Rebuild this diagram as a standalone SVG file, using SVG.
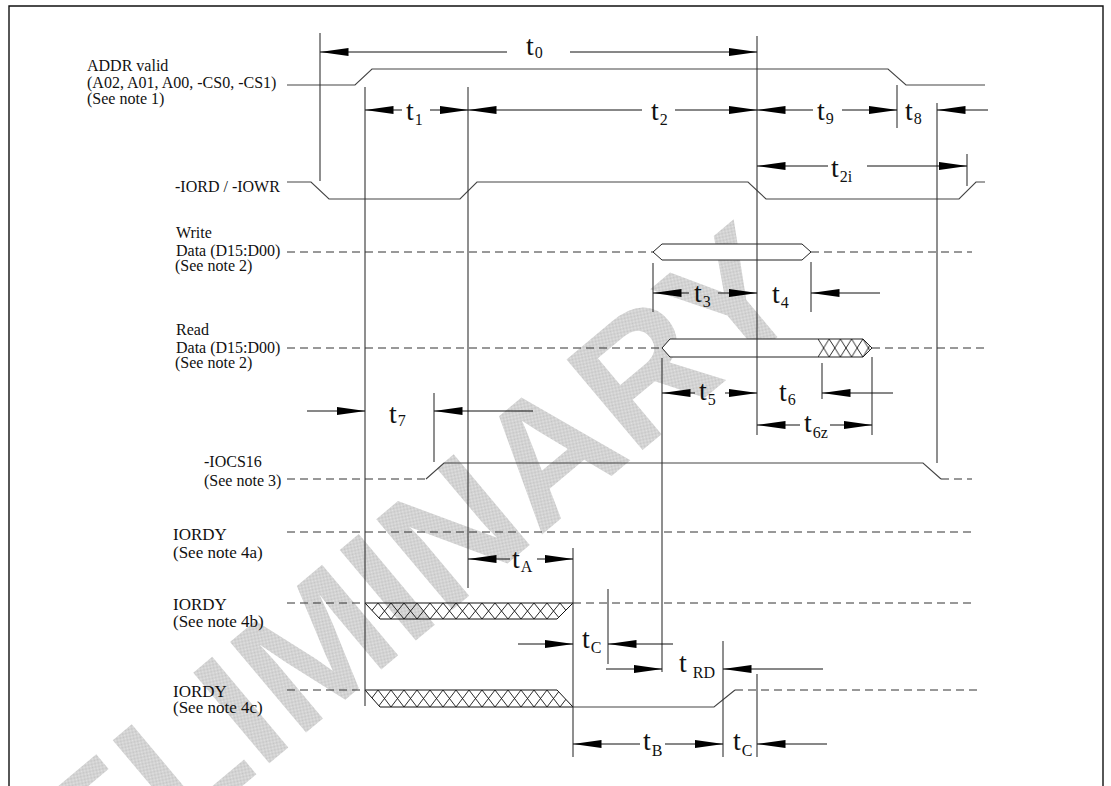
<svg xmlns="http://www.w3.org/2000/svg" width="1111" height="786" viewBox="0 0 1111 786">
<style>
.lbl{font-family:"Liberation Serif","Times New Roman",serif;font-size:16px;fill:#111}
.lbl17{font-family:"Liberation Serif","Times New Roman",serif;font-size:17px;fill:#111}
.t{font-family:"Liberation Serif","Times New Roman",serif;font-size:28px;fill:#111}
.sub{font-size:16px}
.sig{fill:none;stroke:#444;stroke-width:1.1}
.dash{fill:none;stroke:#333;stroke-width:1;stroke-dasharray:8 5}
.ref{fill:none;stroke:#333;stroke-width:1.1}
.dim{fill:none;stroke:#111;stroke-width:1;marker-end:url(#ah)}
.bus{fill:#fff;stroke:#222;stroke-width:1}
.wm{font-family:"Liberation Sans",Arial,sans-serif;font-weight:bold;font-size:172px;fill:url(#dots)}
</style>
<defs>
<marker id="ah" markerUnits="userSpaceOnUse" viewBox="0 0 29 9" markerWidth="29" markerHeight="9" refX="28.5" refY="4.5" orient="auto">
<path d="M0,0.5 L29,4.5 L0,8.5 z" fill="#000"/>
</marker>
<pattern id="dots" patternUnits="userSpaceOnUse" width="2" height="2">
<rect width="2" height="2" fill="#e2e2e2"/>
<rect width="1" height="1" fill="#c4c4c4"/>
<rect x="1" y="1" width="1" height="1" fill="#c4c4c4"/>
</pattern>
<pattern id="xh1" patternUnits="userSpaceOnUse" x="365" y="603" width="13" height="16">
<path d="M0,0 L13,16 M13,0 L0,16" stroke="#111" stroke-width="0.9"/>
</pattern>
<pattern id="xh2" patternUnits="userSpaceOnUse" x="365" y="690" width="13" height="17">
<path d="M0,0 L13,17 M13,0 L0,17" stroke="#111" stroke-width="0.9"/>
</pattern>
<pattern id="xh3" patternUnits="userSpaceOnUse" x="818" y="339" width="11.2" height="18">
<path d="M0,0 L11.2,18 M11.2,0 L0,18" stroke="#111" stroke-width="0.9"/>
</pattern>
</defs>
<rect width="1111" height="786" fill="#fff"/>

<g id="watermark">
<text class="wm" text-anchor="end" transform="translate(812,308) rotate(-40)">PRELIMINARY</text>
</g>

<g id="frame">
<path d="M9,790 V6 H1103 V790" fill="none" stroke="#111" stroke-width="1.4"/>
</g>

<g id="labels">
<g id="lbl-addr">
<text class="lbl" x="87" y="71">ADDR valid</text>
<text class="lbl" x="87" y="88">(A02, A01, A00, -CS0, -CS1)</text>
<text class="lbl" x="87" y="104">(See note 1)</text>
</g>
<g id="lbl-iord"><text class="lbl" x="175" y="192">-IORD / -IOWR</text></g>
<g id="lbl-write">
<text class="lbl" x="176" y="238">Write</text>
<text class="lbl" x="176" y="256">Data (D15:D00)</text>
<text class="lbl" x="175" y="271">(See note 2)</text>
</g>
<g id="lbl-read">
<text class="lbl" x="176" y="335">Read</text>
<text class="lbl" x="176" y="353">Data (D15:D00)</text>
<text class="lbl" x="175" y="368">(See note 2)</text>
</g>
<g id="lbl-iocs">
<text class="lbl" x="204" y="467">-IOCS16</text>
<text class="lbl" x="204" y="486">(See note 3)</text>
</g>
<g id="lbl-4a">
<text class="lbl17" x="173" y="540">IORDY</text>
<text class="lbl17" x="173" y="558">(See note 4a)</text>
</g>
<g id="lbl-4b">
<text class="lbl17" x="173" y="610">IORDY</text>
<text class="lbl17" x="173" y="627">(See note 4b)</text>
</g>
<g id="lbl-4c">
<text class="lbl17" x="173" y="697">IORDY</text>
<text class="lbl17" x="173" y="713">(See note 4c)</text>
</g>
</g>

<g id="signals">
<g id="sig-addr"><polyline class="sig" points="287,85 355,85 372,69 888,69 906,85 985,85"/></g>
<g id="sig-iord"><polyline class="sig" points="287,182 311,182 329,199 460,199 477,182 748,182 766,199 959,199 976,182 985,182"/></g>
<g id="sig-write">
<line class="dash" x1="287" y1="252" x2="653" y2="252"/>
<polygon class="bus" points="653,252 662,244 802,244 811,252 802,260 662,260"/>
<line class="dash" x1="811" y1="252" x2="972" y2="252"/>
</g>
<g id="sig-read">
<line class="dash" x1="287" y1="348" x2="662" y2="348"/>
<polygon class="bus" points="662,348 670,339 863,339 872,348 863,357 670,357"/>
<polygon points="818,339 863,339 872,348 863,357 818,357" fill="url(#xh3)" stroke="none"/>
<line class="dash" x1="872" y1="348" x2="985" y2="348"/>
</g>
<g id="sig-iocs">
<line class="dash" x1="287" y1="479" x2="426" y2="479"/>
<polyline class="sig" points="426,479 444,463 923,463 941,479"/>
<line class="dash" x1="941" y1="479" x2="972" y2="479"/>
</g>
<g id="sig-4a"><line class="dash" x1="287" y1="532" x2="973" y2="532"/></g>
<g id="sig-4b">
<line class="dash" x1="287" y1="603" x2="365" y2="603"/>
<polygon points="365,603 573,603 557,619 380,619" fill="url(#xh1)" stroke="#111" stroke-width="1"/>
<line class="dash" x1="573" y1="603" x2="973" y2="603"/>
</g>
<g id="sig-4c">
<line class="dash" x1="287" y1="690" x2="365" y2="690"/>
<polygon points="365,690 557,690 573,707 380,707" fill="url(#xh2)" stroke="#111" stroke-width="1"/>
<polyline class="sig" points="573,707 714,707 735,690"/>
<line class="dash" x1="735" y1="690" x2="977" y2="690"/>
</g>
</g>

<g id="connectors">
<g id="refs">
<line class="ref" x1="320" y1="33" x2="320" y2="181"/>
<line class="ref" x1="365" y1="87" x2="365" y2="706"/>
<line class="ref" x1="468" y1="87" x2="468" y2="588"/>
<line class="ref" x1="757" y1="36" x2="757" y2="435"/>
<line class="ref" x1="897" y1="85" x2="897" y2="128"/>
<line class="ref" x1="937" y1="103" x2="937" y2="463"/>
<line class="ref" x1="967" y1="154" x2="967" y2="186"/>
<line class="ref" x1="653" y1="263" x2="653" y2="312"/>
<line class="ref" x1="811" y1="262" x2="811" y2="312"/>
<line class="ref" x1="662" y1="358" x2="662" y2="672"/>
<line class="ref" x1="822" y1="363" x2="822" y2="399"/>
<line class="ref" x1="872" y1="357" x2="872" y2="435"/>
<line class="ref" x1="434" y1="393" x2="434" y2="462"/>
<line class="ref" x1="573" y1="548" x2="573" y2="757"/>
<line class="ref" x1="608" y1="589" x2="608" y2="664"/>
<line class="ref" x1="723" y1="641" x2="723" y2="757"/>
<line class="ref" x1="757" y1="674" x2="757" y2="757"/>
</g>
<g id="dims">
<line class="dim" x1="507" y1="52" x2="320" y2="52"/>
<line class="dim" x1="570" y1="52" x2="757" y2="52"/>
<line class="dim" x1="402" y1="110" x2="365" y2="110"/>
<line class="dim" x1="430" y1="110" x2="468" y2="110"/>
<line class="dim" x1="642" y1="110" x2="468" y2="110"/>
<line class="dim" x1="675" y1="110" x2="757" y2="110"/>
<line class="dim" x1="813" y1="110" x2="757" y2="110"/>
<line class="dim" x1="842" y1="110" x2="897" y2="110"/>
<line class="dim" x1="988" y1="110" x2="937" y2="110"/>
<line class="dim" x1="828" y1="166" x2="757" y2="166"/>
<line class="dim" x1="867" y1="166" x2="967" y2="166"/>
<line class="dim" x1="689" y1="293" x2="653" y2="293"/>
<line class="dim" x1="718" y1="293" x2="757" y2="293"/>
<line class="dim" x1="880" y1="293" x2="811" y2="293"/>
<line class="dim" x1="695" y1="393" x2="662" y2="393"/>
<line class="dim" x1="725" y1="393" x2="757" y2="393"/>
<line class="dim" x1="893" y1="393" x2="822" y2="393"/>
<line class="dim" x1="800" y1="425" x2="757" y2="425"/>
<line class="dim" x1="830" y1="425" x2="872" y2="425"/>
<line class="dim" x1="307" y1="411" x2="365" y2="411"/>
<line class="dim" x1="533" y1="411" x2="434" y2="411"/>
<line class="dim" x1="510" y1="559" x2="468" y2="559"/>
<line class="dim" x1="537" y1="559" x2="573" y2="559"/>
<line class="dim" x1="518" y1="644" x2="573" y2="644"/>
<line class="dim" x1="673" y1="644" x2="608" y2="644"/>
<line class="dim" x1="606" y1="669" x2="662" y2="669"/>
<line class="dim" x1="823" y1="669" x2="723" y2="669"/>
<line class="dim" x1="640" y1="744" x2="573" y2="744"/>
<line class="dim" x1="665" y1="744" x2="723" y2="744"/>
<line class="dim" x1="827" y1="744" x2="757" y2="744"/>
</g>
</g>

<g id="timing-labels">
<text class="t" x="526" y="55">t<tspan class="sub" dx="1" dy="3">0</tspan></text>
<text class="t" x="406" y="120">t<tspan class="sub" dx="1" dy="5">1</tspan></text>
<text class="t" x="651" y="120">t<tspan class="sub" dx="1" dy="5">2</tspan></text>
<text class="t" x="817" y="120">t<tspan class="sub" dx="1" dy="4">9</tspan></text>
<text class="t" x="905" y="120">t<tspan class="sub" dx="1" dy="4">8</tspan></text>
<text class="t" x="831" y="177">t<tspan class="sub" dx="1" dy="5">2i</tspan></text>
<text class="t" x="694" y="302">t<tspan class="sub" dx="1" dy="5">3</tspan></text>
<text class="t" x="772" y="303">t<tspan class="sub" dx="1" dy="5">4</tspan></text>
<text class="t" x="699" y="400">t<tspan class="sub" dx="1" dy="5">5</tspan></text>
<text class="t" x="779" y="401">t<tspan class="sub" dx="1" dy="4">6</tspan></text>
<text class="t" x="804" y="432">t<tspan class="sub" dx="1" dy="6">6z</tspan></text>
<text class="t" x="389" y="423">t<tspan class="sub" dx="1" dy="3">7</tspan></text>
<text class="t" x="512" y="568">t<tspan class="sub" dx="1" dy="4">A</tspan></text>
<text class="t" x="582" y="648">t<tspan class="sub" dx="1" dy="5">C</tspan></text>
<text class="t" x="679" y="672">t<tspan class="sub" dx="6" dy="6">RD</tspan></text>
<text class="t" x="643" y="750">t<tspan class="sub" dx="1" dy="6">B</tspan></text>
<text class="t" x="733" y="750">t<tspan class="sub" dx="1" dy="6">C</tspan></text>
</g>
</svg>
